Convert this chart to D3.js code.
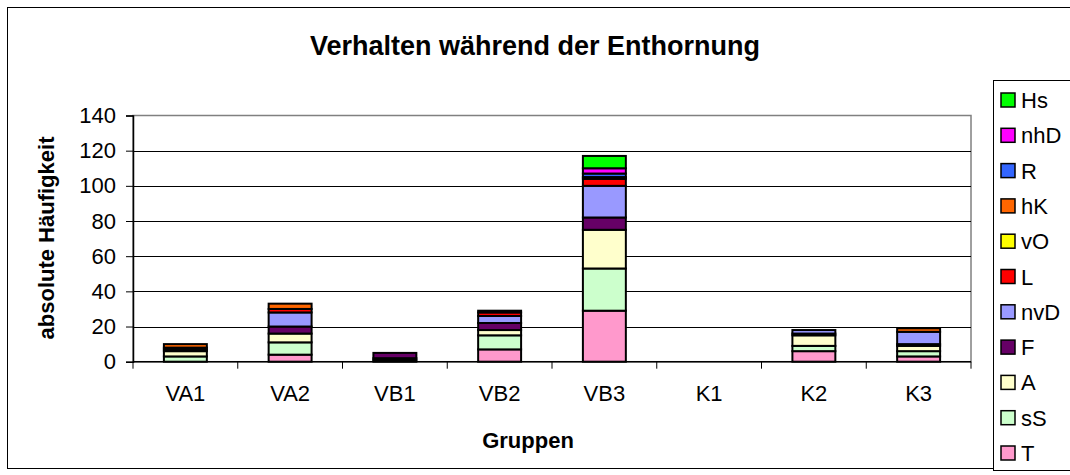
<!DOCTYPE html>
<html>
<head>
<meta charset="utf-8">
<script src="https://cdn.jsdelivr.net/npm/d3@7"></script>
<style>
  body { margin: 0; background: #fff; }
  svg { display: block; font-family: "Liberation Sans", Arial, sans-serif; }
</style>
</head>
<body>
<svg id="chart" width="1070" height="475"></svg>
<script>
// groups on the x axis
const groups = ["VA1", "VA2", "VB1", "VB2", "VB3", "K1", "K2", "K3"];

// counts per behaviour, one value per group
const T = [0, 4, 1, 7, 29, 0, 6, 3];
const sS = [3, 7, 0, 8, 24, 0, 3, 3];
const A = [3, 5, 1, 3, 22, 0, 6, 3];
const F = [1, 4, 3, 4, 7, 0, 1, 1];
const nvD = [1, 8, 0, 4, 18, 0, 2, 7];
const L = [0, 2, 0, 2, 4, 0, 0, 0];
const vO = [0, 0, 0, 0, 0, 0, 0, 0];
const hK = [2, 3, 0, 1, 1, 0, 0, 2];
const R = [0, 0, 0, 0, 2, 0, 0, 0];
const nhD = [0, 0, 0, 0, 3, 0, 0, 0];
const Hs = [0, 0, 0, 0, 7, 0, 0, 0];

const yTicks = [0, 20, 40, 60, 80, 100, 120, 140];

// stacking order, bottom to top
const seriesNames = ["T", "sS", "A", "F", "nvD", "L", "vO", "hK", "R", "nhD", "Hs"];
const seriesValues = [T, sS, A, F, nvD, L, vO, hK, R, nhD, Hs];
const seriesColors = ["#FF99CC", "#CCFFCC", "#FFFFCC", "#660066", "#9999FF",
  "#FF0000", "#FFFF00", "#FF6600", "#3366FF", "#FF00FF", "#00FF00"];

const rows = groups.map((g, i) => {
  const row = { group: g };
  seriesNames.forEach((s, k) => { row[s] = seriesValues[k][i]; });
  return row;
});

const svg = d3.select("#chart");
const plot = { left: 133, right: 971, top: 115.5, bottom: 361.7 };
const fontSize = "22px";

// outer frame
svg.append("rect")
  .attr("x", 7.5).attr("y", 7.5)
  .attr("width", 1100).attr("height", 461)
  .attr("fill", "#fff").attr("stroke", "#000");

svg.append("text")
  .attr("x", 535).attr("y", 55)
  .attr("text-anchor", "middle")
  .style("font-size", "27px").style("font-weight", "bold")
  .text("Verhalten während der Enthornung");

const x = d3.scaleBand()
  .domain(groups)
  .range([plot.left, plot.right])
  .paddingInner(0.59)
  .paddingOuter(0.295);

const y = d3.scaleLinear().domain([0, 140]).range([plot.bottom, plot.top]);

// plot area border (grey top and right)
svg.append("rect")
  .attr("x", plot.left).attr("y", plot.top)
  .attr("width", plot.right - plot.left).attr("height", plot.bottom - plot.top)
  .attr("fill", "#fff").attr("stroke", "#808080").attr("stroke-width", 1.5);

// gridlines
svg.append("g")
  .selectAll("line")
  .data(yTicks.filter(t => t > 0 && t < 140))
  .enter()
  .append("line")
  .attr("x1", plot.left).attr("x2", plot.right)
  .attr("y1", d => Math.round(y(d)) + 0.5).attr("y2", d => Math.round(y(d)) + 0.5)
  .attr("stroke", "#000");

// stacked bars
const stack = d3.stack().keys(seriesNames)(rows);
const layers = svg.append("g")
  .selectAll("g")
  .data(stack)
  .enter()
  .append("g")
  .attr("fill", (d, i) => seriesColors[i]);

layers.selectAll("rect")
  .data(d => d.filter(p => p[1] - p[0] > 0))
  .enter()
  .append("rect")
  .attr("x", d => x(d.data.group))
  .attr("width", x.bandwidth())
  .attr("y", d => y(d[1]))
  .attr("height", d => y(d[0]) - y(d[1]))
  .attr("stroke", "#000")
  .attr("stroke-width", 2);

// y axis
const yAxis = svg.append("g")
  .attr("transform", `translate(${plot.left},0)`)
  .call(d3.axisLeft(y).tickValues(yTicks).tickSize(7).tickPadding(10));
yAxis.select(".domain").attr("stroke", "#000").attr("stroke-width", 1.5);
yAxis.selectAll("text").style("font-size", fontSize).attr("fill", "#000");

// x axis with ticks between groups
const xAxis = svg.append("g").attr("transform", `translate(0,${plot.bottom})`);
xAxis.append("line")
  .attr("x1", plot.left).attr("x2", plot.right)
  .attr("stroke", "#000").attr("stroke-width", 1.5);
xAxis.selectAll(".tk")
  .data(d3.range(groups.length + 1))
  .enter()
  .append("line")
  .attr("x1", i => plot.left + i * x.step())
  .attr("x2", i => plot.left + i * x.step())
  .attr("y1", 0).attr("y2", 7)
  .attr("stroke", "#000");
xAxis.selectAll("text")
  .data(groups)
  .enter()
  .append("text")
  .attr("x", d => x(d) + x.bandwidth() / 2)
  .attr("y", 39)
  .attr("text-anchor", "middle")
  .style("font-size", fontSize)
  .text(d => d);

// axis titles
svg.append("text")
  .attr("x", 528).attr("y", 448)
  .attr("text-anchor", "middle")
  .style("font-size", fontSize).style("font-weight", "bold")
  .text("Gruppen");

svg.append("text")
  .attr("transform", "translate(54,238) rotate(-90)")
  .attr("text-anchor", "middle")
  .style("font-size", fontSize).style("font-weight", "bold")
  .text("absolute Häufigkeit");

// legend, top entry is the last series
const legend = svg.append("g");
legend.append("rect")
  .attr("x", 993.5).attr("y", 80.5)
  .attr("width", 100).attr("height", 390)
  .attr("fill", "#fff").attr("stroke", "#000");

const legendOrder = seriesNames.map((s, i) => i).reverse();
const item = legend.selectAll(".item")
  .data(legendOrder)
  .enter()
  .append("g")
  .attr("transform", (d, j) => `translate(1001,${100 + j * 35.3})`);
item.append("rect")
  .attr("x", 0).attr("y", -7)
  .attr("width", 14).attr("height", 14)
  .attr("fill", d => seriesColors[d])
  .attr("stroke", "#000").attr("stroke-width", 1.5);
item.append("text")
  .attr("x", 20).attr("y", 8)
  .style("font-size", fontSize)
  .text(d => seriesNames[d]);
</script>
</body>
</html>
